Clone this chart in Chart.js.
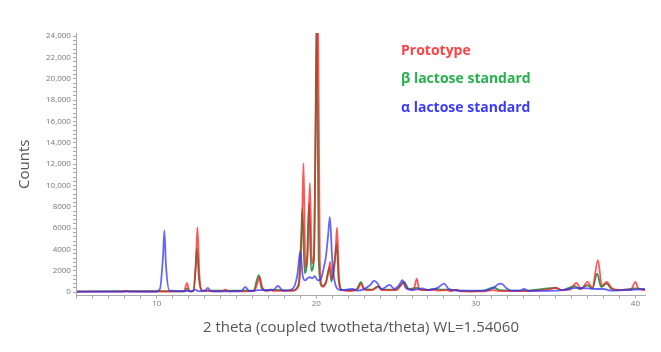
<!DOCTYPE html>
<html>
<head>
<meta charset="utf-8">
<script src="https://cdn.jsdelivr.net/npm/chart.js@4.4.1/dist/chart.umd.min.js"></script>
<style>
  html, body { margin: 0; padding: 0; background: #fff; }
  #wrap { width: 661px; height: 352px; }
</style>
</head>
<body>
<div id="wrap"><canvas id="xrdChart" width="661" height="352"></canvas></div>
<script>
// Prototype (red) - 2 theta positions and counts
const protoTheta = [5.0, 7.9, 8.1, 8.3, 11.7, 11.9, 12.05, 12.3, 12.45, 12.55, 12.68, 12.85, 14.1, 14.3, 14.5,
  16.1, 16.3, 16.45, 16.6, 16.8, 17.0, 17.15, 17.3, 18.5, 18.9, 19.1, 19.2, 19.32, 19.45, 19.6, 19.72, 19.85,
  20.0, 20.1, 20.22, 20.4, 20.6, 20.8, 20.87, 21.0, 21.2, 21.3, 21.42, 21.6, 22.0, 22.6, 22.8, 23.0, 23.5,
  23.9, 24.1, 25.0, 25.5, 25.7, 26.1, 26.3, 26.45, 26.8, 27.3, 27.6, 28.2, 28.4, 28.8, 29.0, 30.5, 31.1,
  31.5, 33.0, 34.5, 35.0, 35.4, 35.9, 36.3, 36.6, 37.0, 37.3, 37.65, 37.9, 38.2, 38.5, 39.0, 39.4, 39.7,
  40.0, 40.2, 40.6];
const protoCounts = [60, 60, 150, 60, 80, 850, 80, 100, 2500, 6070, 1500, 150, 80, 250, 80,
  100, 800, 1430, 500, 150, 120, 250, 120, 150, 600, 6000, 12100, 2300, 3500, 10250, 2700, 3500,
  20000, 27000, 3000, 500, 900, 2200, 2840, 1200, 3500, 6070, 1500, 200, 100, 300, 800, 250, 200,
  500, 200, 200, 870, 300, 250, 1280, 250, 200, 250, 150, 200, 100, 250, 80, 80, 200,
  100, 100, 250, 400, 200, 250, 870, 300, 970, 400, 3000, 600, 970, 400, 200, 250, 200,
  970, 300, 200];

// beta lactose standard (green)
const betaTheta = [5.0, 8.1, 11.75, 11.9, 12.05, 12.3, 12.42, 12.52, 12.65, 12.85, 16.1, 16.25, 16.4, 16.55, 16.8,
  17.1, 18.5, 18.9, 19.05, 19.13, 19.27, 19.42, 19.55, 19.68, 19.85, 19.95, 20.02, 20.15, 20.35, 20.6,
  20.82, 20.95, 21.15, 21.28, 21.4, 21.6, 22.5, 22.8, 23.0, 23.5, 23.85, 24.1, 25.0, 25.5, 25.8, 26.3,
  26.7, 27.5, 27.8, 28.3, 28.7, 29.5, 30.5, 31.1, 31.5, 33.0, 34.55, 35.0, 35.4, 36.2, 36.5, 37.0, 37.3,
  37.6, 37.85, 38.2, 38.5, 39.0, 40.0, 40.6];
const betaCounts = [60, 100, 80, 350, 80, 100, 2000, 4100, 1200, 150, 150, 1000, 1600, 500, 150,
  250, 150, 800, 5000, 7870, 1800, 3000, 8340, 2000, 3000, 15000, 27000, 3000, 600, 900,
  2340, 1000, 3000, 4560, 1200, 200, 250, 940, 300, 250, 550, 250, 250, 970, 300, 400,
  200, 300, 250, 250, 200, 80, 150, 440, 200, 150, 350, 400, 200, 560, 300, 650, 350,
  1750, 500, 810, 300, 200, 350, 250];

// alpha lactose standard (blue)
const alphaTheta = [5.0, 9.9, 10.2, 10.4, 10.48, 10.58, 10.8, 12.2, 12.4, 12.6, 13.0, 13.2, 13.4, 15.3, 15.55,
  15.8, 16.4, 17.3, 17.6, 17.9, 18.5, 18.8, 19.0, 19.15, 19.3, 19.45, 19.6, 19.75, 19.9, 20.1, 20.3,
  20.5, 20.6, 20.75, 20.85, 21.0, 21.2, 21.5, 22.25, 22.6, 23.4, 23.6, 23.8, 24.1, 24.6, 24.9, 25.2,
  25.4, 25.6, 26.0, 26.65, 27.0, 27.6, 28.0, 28.3, 28.8, 30.5, 31.1, 31.4, 31.6, 31.9, 32.2, 32.8,
  33.0, 33.3, 35.0, 36.5, 37.0, 37.5, 38.0, 38.5, 40.0, 40.6];
const alphaCounts = [50, 50, 300, 3500, 5800, 2500, 150, 100, 250, 100, 100, 400, 80, 100, 500,
  100, 200, 200, 600, 150, 300, 1500, 3840, 1500, 1100, 1300, 1400, 1300, 1500, 1100, 1300,
  2500, 3300, 5500, 7060, 3000, 700, 200, 300, 150, 700, 1060, 900, 300, 680, 300, 700,
  1120, 400, 200, 350, 200, 400, 810, 300, 150, 150, 400, 750, 810, 400, 150, 150,
  300, 120, 150, 400, 350, 300, 300, 150, 250, 300];

const toPoints = (xs, ys) => xs.map((x, i) => ({ x: x, y: ys[i] }));

// Series legend drawn as coloured text inside the plot
const legendItems = [
  { text: 'Prototype', color: '#ff4242', y: 51 },
  { text: 'β lactose standard', color: '#25b24c', y: 79 },
  { text: 'α lactose standard', color: '#3b3bff', y: 108 }
];

const textLegend = {
  id: 'textLegend',
  afterDraw(chart) {
    const ctx = chart.ctx;
    ctx.save();
    ctx.font = 'bold 14px "Open Sans"';
    ctx.textBaseline = 'middle';
    ctx.textAlign = 'left';
    legendItems.forEach(item => {
      ctx.fillStyle = item.color;
      ctx.fillText(item.text, 401, item.y);
    });
    ctx.restore();
  }
};

function lineSet(label, xs, ys, color) {
  return {
    label: label,
    data: toPoints(xs, ys),
    borderColor: color,
    borderWidth: 1.8,
    pointRadius: 0,
    fill: false,
    cubicInterpolationMode: 'monotone'
  };
}

const ctx = document.getElementById('xrdChart').getContext('2d');

new Chart(ctx, {
  type: 'line',
  data: {
    datasets: [
      lineSet('α lactose standard', alphaTheta, alphaCounts, 'rgba(50, 50, 255, 0.75)'),
      lineSet('Prototype', protoTheta, protoCounts, 'rgba(255, 30, 30, 0.75)'),
      lineSet('β lactose standard', betaTheta, betaCounts, 'rgba(0, 125, 40, 0.8)')
    ]
  },
  options: {
    responsive: false,
    animation: false,
    layout: { padding: { top: 33, right: 16, left: 16, bottom: 15 } },
    plugins: {
      legend: { display: false },
      tooltip: { enabled: false }
    },
    scales: {
      x: {
        type: 'linear',
        min: 5,
        max: 40.6,
        ticks: {
          stepSize: 1,
          includeBounds: false,
          autoSkip: false,
          maxRotation: 0,
          padding: 1,
          color: '#777',
          font: { family: 'Open Sans', size: 8 },
          callback: v => (v % 10 === 0 ? v : '')
        },
        grid: { drawOnChartArea: false, tickLength: 3, color: '#aaa' },
        border: { display: true, color: '#aaa' },
        title: {
          display: true,
          text: '2 theta (coupled twotheta/theta) WL=1.54060',
          color: '#555',
          font: { family: 'Open Sans', size: 15 },
          padding: { top: 9, bottom: 0 }
        }
      },
      y: {
        min: -300,
        max: 24300,
        ticks: {
          stepSize: 400,
          includeBounds: false,
          autoSkip: false,
          padding: 2,
          color: '#777',
          font: { family: 'Open Sans', size: 8 },
          callback: v => (v % 2000 !== 0 ? '' : (v >= 10000 ? v.toLocaleString('en-US') : String(v)))
        },
        grid: { drawOnChartArea: false, tickLength: 4, color: '#aaa' },
        border: { display: true, color: '#aaa' },
        title: {
          display: true,
          text: 'Counts',
          color: '#555',
          font: { family: 'Open Sans', size: 15 },
          padding: { top: 0, bottom: 10 }
        }
      }
    }
  },
  plugins: [textLegend]
});
</script>
</body>
</html>
